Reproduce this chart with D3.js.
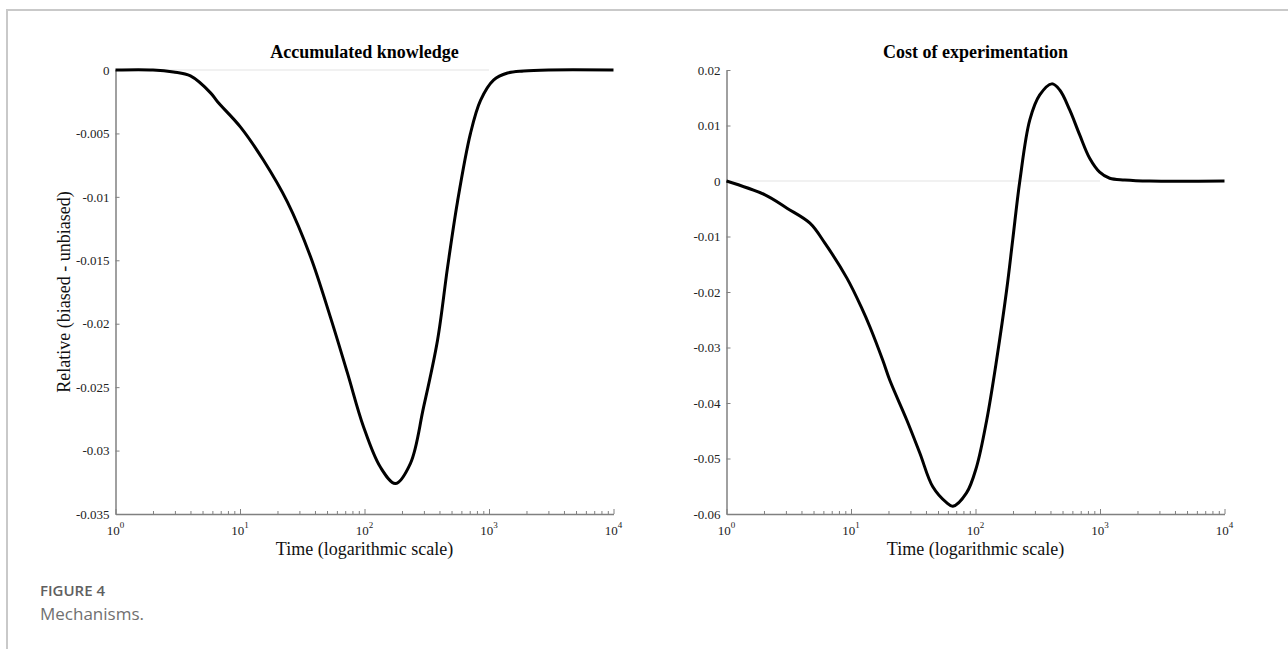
<!DOCTYPE html>
<html>
<head>
<meta charset="utf-8">
<script src="https://cdn.jsdelivr.net/npm/d3@7/dist/d3.min.js"></script>
<style>
  html, body { margin: 0; padding: 0; background: #fff; }
  svg { display: block; }
</style>
</head>
<body>
<svg id="fig" width="1288" height="649"></svg>
<script>
// Time axis (logarithmic), shared by both panels
const timeTicks = [1, 10, 100, 1000, 10000];
const timeExponents = ["0", "1", "2", "3", "4"];

// Panel 1: accumulated knowledge, biased minus unbiased
const knowledgeTime = [1, 2, 2.92, 4.0, 5.8, 6.6, 10.1, 15.4, 24, 36.8, 53.3, 73, 98, 134, 177,
  234, 298, 386, 464, 558, 710, 855, 1087, 1409, 1893, 3000, 10000];
const knowledgeDiff = [0, 0, -0.00016, -0.00047, -0.0018, -0.0025, -0.0045, -0.0071, -0.0104, -0.0147,
  -0.0195, -0.0239, -0.0281, -0.0313, -0.0326, -0.0310, -0.0266, -0.0213, -0.0156, -0.0104,
  -0.0050, -0.0024, -0.0008, -0.00024, -0.00008, 0, 0];
const knowledgeTicks = [0, -0.005, -0.01, -0.015, -0.02, -0.025, -0.03, -0.035];

// Panel 2: cost of experimentation, biased minus unbiased
const costTime = [1, 2.04, 3.06, 4.68, 6.17, 9.27, 12.2, 14.2, 18.0, 20.5, 28.1, 35.7, 45.4, 58.9, 65.8,
  84.7, 102, 123, 147.6, 178, 199, 227, 273, 328, 410, 475, 571, 687, 826, 994, 1196, 1578, 2505, 10000];
const costDiff = [0, -0.0025, -0.0049, -0.0076, -0.0112, -0.0175, -0.0229, -0.0263, -0.0323, -0.0359,
  -0.0431, -0.0490, -0.0551, -0.0580, -0.0586, -0.0562, -0.0515, -0.0431, -0.0323, -0.0196, -0.0106,
  0, 0.011, 0.0155, 0.0175, 0.0164, 0.0128, 0.0083, 0.0041, 0.0016, 0.0005, 0.0002, 0, 0];
const costTicks = [0.02, 0.01, 0, -0.01, -0.02, -0.03, -0.04, -0.05, -0.06];

const panelTitles = ["Accumulated knowledge", "Cost of experimentation"];
const xAxisTitle = "Time (logarithmic scale)";
const yAxisTitle = "Relative (biased - unbiased)";

const serif = "'Liberation Serif', 'Times New Roman', serif";
const svg = d3.select("#fig");

// figure frame (top and left rules)
svg.append("path")
  .attr("d", "M7,649 V10 H1288")
  .attr("fill", "none")
  .attr("stroke", "#c9c9c9")
  .attr("stroke-width", 2);

const panels = [
  { left: 115.5, right: 613.5, top: 70, bottom: 514, time: knowledgeTime, diff: knowledgeDiff,
    ticks: knowledgeTicks, domain: [-0.035, 0], title: panelTitles[0], ylabel: true },
  { left: 726.5, right: 1224.5, top: 70, bottom: 514, time: costTime, diff: costDiff,
    ticks: costTicks, domain: [-0.06, 0.02], title: panelTitles[1], ylabel: false }
];

const minorTicks = [];
for (let k = 0; k < 4; k++) for (let d = 2; d <= 9; d++) minorTicks.push(d * Math.pow(10, k));

panels.forEach(p => {
  const x = d3.scaleLog().domain([1, 10000]).range([p.left, p.right]);
  const y = d3.scaleLinear().domain(p.domain).range([p.bottom, p.top]);
  const g = svg.append("g");

  // zero reference line
  g.append("line")
    .attr("x1", x(1)).attr("x2", x(1000))
    .attr("y1", y(0)).attr("y2", y(0))
    .attr("stroke", "#e3e3e3").attr("stroke-width", 1);

  // minor x ticks
  const minorAxis = g.append("g")
    .attr("transform", `translate(0,${p.bottom})`)
    .call(d3.axisBottom(x).tickValues(minorTicks).tickSize(-3).tickFormat(""));
  minorAxis.select(".domain").remove();

  // major x ticks and baseline
  const xAxis = g.append("g")
    .attr("transform", `translate(0,${p.bottom})`)
    .call(d3.axisBottom(x).tickValues(timeTicks).tickSize(-5).tickSizeOuter(0).tickFormat(""));

  [minorAxis, xAxis].forEach(a => {
    a.selectAll("line").attr("stroke", "#808080").attr("stroke-width", 1);
  });
  xAxis.select(".domain").attr("stroke", "#808080").attr("stroke-width", 1.5);

  // power-of-ten labels
  timeTicks.forEach((t, i) => {
    const txt = g.append("text")
      .attr("x", x(t)).attr("y", p.bottom + 21)
      .attr("text-anchor", "middle")
      .attr("font-family", serif).attr("font-size", 13).attr("fill", "#222");
    txt.append("tspan").text("10");
    txt.append("tspan").attr("dy", -7).attr("font-size", 9).text(timeExponents[i]);
  });

  // y axis
  const yAxis = g.append("g")
    .attr("transform", `translate(${p.left},0)`)
    .call(d3.axisLeft(y).tickValues(p.ticks).tickSize(-4).tickSizeOuter(0).tickPadding(6)
      .tickFormat(d => String(d)));
  yAxis.attr("font-family", serif).attr("font-size", 13);
  yAxis.select(".domain").attr("stroke", "#808080").attr("stroke-width", 1.5);
  yAxis.selectAll("line").attr("stroke", "#808080");
  yAxis.selectAll("text")
    .attr("font-family", serif).attr("font-size", 13).attr("fill", "#222");

  // curve
  const line = d3.line()
    .x((d, i) => x(p.time[i]))
    .y(d => y(d))
    .curve(d3.curveCatmullRom.alpha(0.5));
  g.append("path")
    .attr("d", line(p.diff))
    .attr("fill", "none")
    .attr("stroke", "#000")
    .attr("stroke-width", 3)
    .attr("stroke-linejoin", "round");

  // titles
  const cx = (p.left + p.right) / 2;
  g.append("text")
    .attr("x", cx).attr("y", 58)
    .attr("text-anchor", "middle")
    .attr("font-family", serif).attr("font-weight", "bold").attr("font-size", 18)
    .attr("fill", "#000")
    .text(p.title);
  g.append("text")
    .attr("x", cx).attr("y", 555)
    .attr("text-anchor", "middle")
    .attr("font-family", serif).attr("font-size", 18).attr("fill", "#111")
    .text(xAxisTitle);
  if (p.ylabel) {
    g.append("text")
      .attr("transform", `translate(70,${(p.top + p.bottom) / 2}) rotate(-90)`)
      .attr("text-anchor", "middle")
      .attr("font-family", serif).attr("font-size", 18).attr("fill", "#111")
      .text(yAxisTitle);
  }
});

// caption
svg.append("text")
  .attr("x", 40).attr("y", 596)
  .attr("font-family", "'Open Sans', sans-serif").attr("font-weight", 600)
  .attr("font-size", 15).attr("fill", "#606060")
  .text("FIGURE 4");
svg.append("text")
  .attr("x", 40).attr("y", 620)
  .attr("font-family", "'Open Sans', sans-serif")
  .attr("font-size", 17).attr("fill", "#707070")
  .text("Mechanisms.");
</script>
</body>
</html>
